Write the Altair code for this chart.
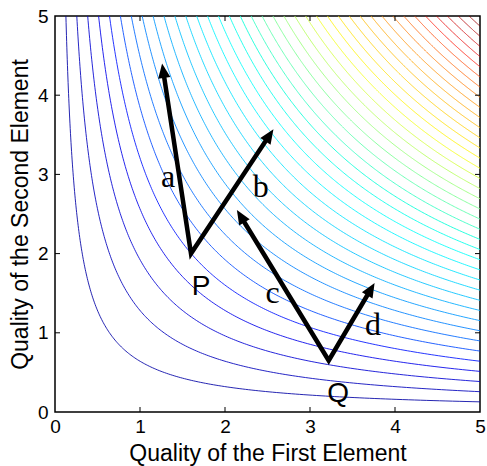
import math
import numpy as np
import pandas as pd
import altair as alt

# ---- data ----
level_step = 25 / 39
levels = [round(k * level_step, 4) for k in range(1, 39)]   # contour levels of q1*q2
ticks = [0, 1, 2, 3, 4, 5]

arrow_names = ["a", "b", "c", "d"]
arrow_start_x = [1.60, 1.60, 3.22, 3.22]
arrow_start_y = [2.00, 2.00, 0.65, 0.65]
arrow_tip_x = [1.26, 2.57, 2.14, 3.76]
arrow_tip_y = [4.40, 3.57, 2.55, 1.63]

letter_text = ["a", "b", "c", "d"]
letter_x = [1.33, 2.42, 2.56, 3.74]
letter_y = [2.84, 2.72, 1.38, 0.97]

point_text = ["P", "Q"]
point_x = [1.72, 3.33]
point_y = [1.48, 0.13]

# ---- layout ----
W, H = 425, 396
SX, SY = W / 5, H / 5

# contour lines of z = x*y
rows = []
for c in levels:
    xs = np.geomspace(c / 5, 5, 220)
    for i, xv in enumerate(xs):
        rows.append({"level": c, "x": float(xv), "y": float(c / xv), "i": i})
contours = pd.DataFrame(rows)

# arrows: shaft paths (V shapes) and heads
HEAD = 12
paths = []
heads = []
ends = {}
for n, sx0, sy0, tx, ty in zip(arrow_names, arrow_start_x, arrow_start_y, arrow_tip_x, arrow_tip_y):
    dxp = (tx - sx0) * SX
    dyp = (ty - sy0) * SY
    L = math.hypot(dxp, dyp)
    ux, uy = dxp / L, dyp / L
    ex = tx - ux * HEAD / SX
    ey = ty - uy * HEAD / SY
    ends[n] = (ex, ey)
    ang = math.degrees(math.atan2(dxp, dyp)) % 360
    heads.append({"x": tx, "y": ty, "angle": ang})

paths += [
    {"g": "PQ1", "o": 0, "x": ends["a"][0], "y": ends["a"][1]},
    {"g": "PQ1", "o": 1, "x": arrow_start_x[0], "y": arrow_start_y[0]},
    {"g": "PQ1", "o": 2, "x": ends["b"][0], "y": ends["b"][1]},
    {"g": "PQ2", "o": 0, "x": ends["c"][0], "y": ends["c"][1]},
    {"g": "PQ2", "o": 1, "x": arrow_start_x[2], "y": arrow_start_y[2]},
    {"g": "PQ2", "o": 2, "x": ends["d"][0], "y": ends["d"][1]},
]
paths = pd.DataFrame(paths)
heads = pd.DataFrame(heads)

letters = pd.DataFrame({"t": letter_text, "x": letter_x, "y": letter_y})
points = pd.DataFrame({"t": point_text, "x": point_x, "y": point_y})
tickdf = pd.DataFrame({"t": ticks[1:-1]})

xscale = alt.Scale(domain=[0, 5], nice=False, zero=False)
yscale = alt.Scale(domain=[0, 5], nice=False, zero=False)
FONT = "Liberation Sans"
xaxis = alt.Axis(values=ticks, grid=False, ticks=False, domain=False, labelFontSize=19,
                 labelFont=FONT, labelColor="black", labelPadding=5, labelFlush=False,
                 title="Quality of the First Element", titleFont=FONT, titleFontSize=23,
                 titleFontWeight="normal", titleColor="black", titleBaseline="alphabetic",
                 titleX=W / 2, titleY=48)
yaxis = alt.Axis(values=ticks, grid=False, ticks=False, domain=False, labelFontSize=19,
                 labelFont=FONT, labelColor="black", labelPadding=7, labelFlush=False,
                 title="Quality of the Second Element", titleFont=FONT, titleFontSize=23,
                 titleFontWeight="normal", titleColor="black", titleBaseline="alphabetic",
                 titleX=-28, titleY=H / 2)


def X(f):
    return alt.X(f, type="quantitative", scale=xscale, axis=xaxis)


def Y(f):
    return alt.Y(f, type="quantitative", scale=yscale, axis=yaxis)


jet = alt.Scale(domain=[0, 3.125, 9.375, 15.625, 21.875, 25],
                range=["#00008f", "#0000ff", "#00ffff", "#ffff00", "#ff0000", "#800000"])

lines = alt.Chart(contours).mark_line(strokeWidth=1, clip=True, opacity=0.85).encode(
    x=X("x"), y=Y("y"),
    color=alt.Color("level:Q", scale=jet, legend=None),
    detail="level:N", order="i:Q")

shafts = alt.Chart(paths).mark_line(strokeWidth=4.5, color="black", strokeJoin="miter",
                                    strokeCap="butt", strokeMiterLimit=20).encode(
    x=X("x"), y=Y("y"), detail="g:N", order="o:Q")

arrowheads = alt.Chart(heads).mark_point(
    shape="M0,0 L-0.85,2 L0.85,2 Z", size=210, filled=True, color="black", opacity=1,
    strokeWidth=0).encode(x=X("x"), y=Y("y"), angle=alt.Angle("angle:Q", scale=None))

letter_marks = alt.Chart(letters).mark_text(font="Liberation Serif", fontSize=32,
                                            baseline="alphabetic", align="center",
                                            color="black").encode(
    x=X("x"), y=Y("y"), text="t:N")

point_marks = alt.Chart(points).mark_text(font=FONT, fontSize=28, baseline="alphabetic",
                                          align="center", color="black").encode(
    x=X("x"), y=Y("y"), text="t:N")

tk = 5
tick_bottom = alt.Chart(tickdf).mark_rule(color="black", strokeWidth=1).encode(
    x=X("t"), y=alt.value(H), y2=alt.value(H - tk))
tick_top = alt.Chart(tickdf).mark_rule(color="black", strokeWidth=1).encode(
    x=X("t"), y=alt.value(0), y2=alt.value(tk))
tick_left = alt.Chart(tickdf).mark_rule(color="black", strokeWidth=1).encode(
    y=Y("t"), x=alt.value(0), x2=alt.value(tk))
tick_right = alt.Chart(tickdf).mark_rule(color="black", strokeWidth=1).encode(
    y=Y("t"), x=alt.value(W), x2=alt.value(W - tk))

chart = alt.layer(lines, tick_bottom, tick_top, tick_left, tick_right,
                  shafts, arrowheads, letter_marks, point_marks).properties(
    width=W, height=H,
    autosize=alt.AutoSizeParams(type="none"),
    padding={"left": 55, "top": 16, "right": 7, "bottom": 54},
    background="white",
).configure_view(stroke="black", strokeWidth=1.5)

chart.save("out.html", embed_options={"renderer": "svg", "actions": False})
